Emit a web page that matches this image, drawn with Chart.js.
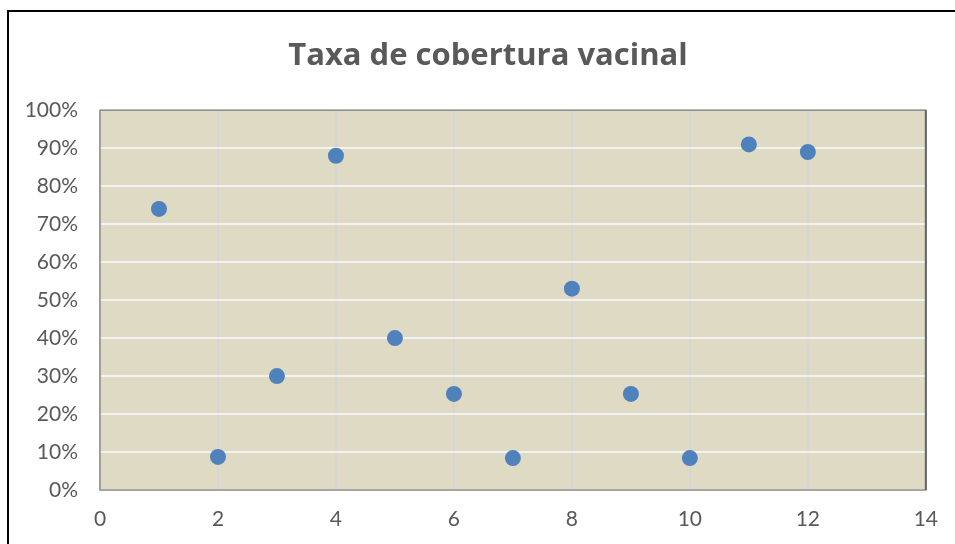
<!DOCTYPE html>
<html>
<head>
<meta charset="utf-8">
<script src="https://cdn.jsdelivr.net/npm/chart.js@4"></script>
<style>
html,body{margin:0;padding:0;background:#fff;}
#wrap{width:955px;height:544px;position:relative;}
</style>
</head>
<body>
<div id="wrap"><canvas id="c" width="955" height="544"></canvas></div>
<script>
const xValues = [1, 2, 3, 4, 5, 6, 7, 8, 9, 10, 11, 12];
const yValues = [74, 8.7, 30, 88, 40, 25.3, 8.4, 53, 25.3, 8.4, 91, 89];
const titleText = 'Taxa de cobertura vacinal';

const points = xValues.map((x, i) => ({x: x, y: yValues[i]}));

const frame = {
  id: 'frame',
  beforeDraw(chart) {
    const ctx = chart.ctx;
    ctx.save();
    ctx.fillStyle = '#ffffff';
    ctx.fillRect(0, 0, chart.width, chart.height);
    const a = chart.chartArea;
    ctx.fillStyle = '#DEDAC4';
    ctx.fillRect(a.left, a.top, a.right - a.left, a.bottom - a.top);
    ctx.restore();
  },
  afterDraw(chart) {
    const ctx = chart.ctx;
    const a = chart.chartArea;
    ctx.save();
    ctx.strokeStyle = '#8C8C8C';
    ctx.lineWidth = 1.5;
    ctx.strokeRect(a.left, a.top, a.right - a.left, a.bottom - a.top);
    ctx.strokeStyle = '#666666';
    ctx.lineWidth = 2;
    ctx.beginPath();
    ctx.moveTo(a.right, a.top);
    ctx.lineTo(a.right, a.bottom);
    ctx.stroke();
    ctx.strokeStyle = '#000000';
    ctx.lineWidth = 2;
    ctx.beginPath();
    ctx.moveTo(8, chart.height + 2);
    ctx.lineTo(8, 11);
    ctx.lineTo(chart.width + 2, 11);
    ctx.stroke();
    ctx.restore();
  }
};

new Chart(document.getElementById('c'), {
  type: 'scatter',
  data: {
    datasets: [{
      data: points,
      backgroundColor: '#4F81BD',
      borderColor: '#4F81BD',
      pointRadius: 8,
      pointHoverRadius: 8,
      borderWidth: 0
    }]
  },
  options: {
    responsive: false,
    animation: false,
    layout: {padding: {left: 21, right: 0, top: 0, bottom: 0}},
    plugins: {
      legend: {display: false},
      tooltip: {enabled: false},
      title: {
        display: true,
        text: titleText,
        color: '#595959',
        font: {family: 'Open Sans', size: 31, weight: 'bold'},
        padding: {top: 38, bottom: 35}
      }
    },
    scales: {
      x: {
        type: 'linear',
        min: 0, max: 14,
        afterFit(s) { s.height = 54; },
        ticks: {stepSize: 2, color: '#595959', font: {family: 'Lato', size: 21}, padding: 17},
        grid: {color: '#D6D6D6', lineWidth: 2, drawTicks: false},
        border: {display: false}
      },
      y: {
        min: 0, max: 100,
        afterFit(s) { s.width = 79; },
        ticks: {stepSize: 10, color: '#595959', font: {family: 'Lato', size: 21}, padding: 22,
                callback: v => v + '%'},
        grid: {color: '#F2F2F2', lineWidth: 2, drawTicks: false},
        border: {display: false}
      },
      spacer: {
        type: 'linear',
        position: 'right',
        min: 0, max: 1,
        afterFit(s) { s.width = 28; },
        ticks: {display: false},
        grid: {display: false, drawOnChartArea: false},
        border: {display: false}
      }
    }
  },
  plugins: [frame]
});
</script>
</body>
</html>
